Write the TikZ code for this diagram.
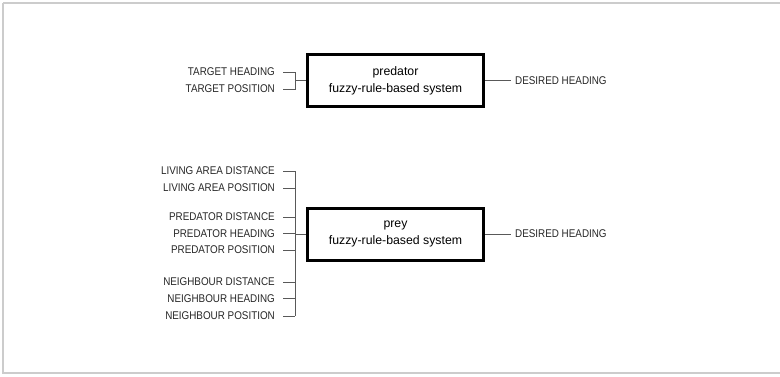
\documentclass[tikz,border=0pt]{standalone}
\usepackage{fontspec}
\setmainfont{Liberation Sans}
\newfontfamily\narrowfont[FakeStretch=0.88]{Liberation Sans}
\usetikzlibrary{positioning}

\tikzset{
    system/.style={draw=black, line width=3pt, minimum width=176pt, minimum height=52pt,
        align=center, font=\fontsize{12.3}{17}\selectfont, inner sep=0pt},
    inlabel/.style={anchor=east, inner sep=0pt, text=black!85, font=\narrowfont\fontsize{11.2}{12}\selectfont},
    outlabel/.style={anchor=west, inner sep=0pt, text=black!85, font=\narrowfont\fontsize{11.2}{12}\selectfont},
    wire/.style={draw=black!65, line width=1pt}
}

\begin{document}
\begin{tikzpicture}[x=1pt, y=-1pt]

% Frame
\useasboundingbox (0,0) rectangle (780,376);
\draw[black!20, line width=2pt] (3,2.5) -- (3,372.5) -- (790,372.5);
\draw[black!20, line width=2pt] (3,2.5) -- (790,2.5);

% Predator system
\node[system] (pred) at (395.5,80.5) {predator\\fuzzy-rule-based system};
\node[outlabel] (predout) at (515,80.5) {DESIRED HEADING};
\draw[wire] (pred.east) -- ([xshift=-4pt]predout.west);

\node[inlabel] (tgthead) at (275,72) {TARGET HEADING};
\node[inlabel] (tgtpos) at (275,89) {TARGET POSITION};
\coordinate (predbus) at (295,80.5);
\draw[wire] ([xshift=8pt]tgthead.east) -- (tgthead.east -| predbus) -- (tgtpos.east -| predbus) -- ([xshift=8pt]tgtpos.east);
\draw[wire] (predbus) -- (pred.west);

% Prey system
\node[system] (prey) at (395.5,234) {prey\\fuzzy-rule-based system};
\node[outlabel] (preyout) at (515,234) {DESIRED HEADING};
\draw[wire] (prey.east) -- ([xshift=-4pt]preyout.west);

\coordinate (preybus) at (295,234);
\foreach \name/\ypos/\txt in {
    ladist/171/LIVING AREA DISTANCE,
    lapos/188/LIVING AREA POSITION,
    pdist/217/PREDATOR DISTANCE,
    phead/233.5/PREDATOR HEADING,
    ppos/250/PREDATOR POSITION,
    ndist/282/NEIGHBOUR DISTANCE,
    nhead/298.5/NEIGHBOUR HEADING,
    npos/316/NEIGHBOUR POSITION} {
    \node[inlabel] (\name) at (275,\ypos) {\txt};
    \draw[wire] ([xshift=8pt]\name.east) -- (\name.east -| preybus);
}
\draw[wire] (ladist.east -| preybus) -- (npos.east -| preybus);
\draw[wire] (preybus) -- (prey.west);

\end{tikzpicture}
\end{document}
